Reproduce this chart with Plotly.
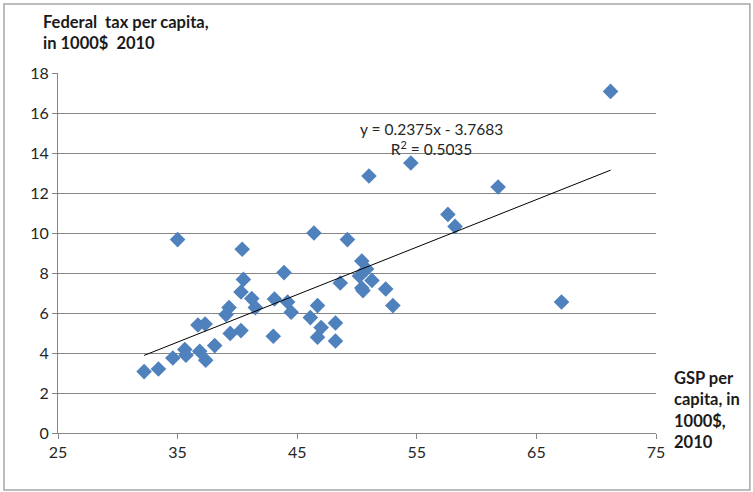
import plotly.graph_objects as go

gsp_per_capita = [32.2, 33.4, 34.6, 35.6, 35.7, 35.0, 36.7, 37.3, 36.85, 37.35,
                  38.1, 39.05, 39.3, 39.4, 40.3, 40.3, 40.5, 40.4, 41.2, 41.5,
                  43.0, 43.1, 43.9, 44.2, 44.5, 46.1, 46.4, 46.7, 46.7, 47.0,
                  48.2, 48.2, 48.6, 49.2, 50.2, 50.4, 50.8, 50.4, 50.5, 51.25,
                  51.0, 52.4, 53.0, 54.5, 57.6, 58.2, 61.8, 67.1, 71.2]
federal_tax = [3.07, 3.2, 3.75, 4.17, 3.89, 9.67, 5.4, 5.45, 4.09, 3.64,
               4.37, 5.92, 6.27, 4.98, 5.12, 7.05, 7.68, 9.19, 6.72, 6.27,
               4.84, 6.7, 8.02, 6.55, 6.04, 5.77, 10.0, 6.37, 4.79, 5.27,
               5.5, 4.6, 7.5, 9.67, 7.85, 8.6, 8.2, 7.25, 7.12, 7.63,
               12.85, 7.2, 6.37, 13.5, 10.93, 10.33, 12.3, 6.55, 17.08]

trend_slope = 0.2375
trend_intercept = -3.7683
r_squared = 0.5035

x_ticks = [25, 35, 45, 55, 65, 75]
y_ticks = [0, 2, 4, 6, 8, 10, 12, 14, 16, 18]

FONT = "Lato"
GRID = "#868686"
TXT = "#262626"

fig = go.Figure()
fig.add_trace(go.Scatter(
    x=gsp_per_capita, y=federal_tax, mode="markers",
    marker=dict(symbol="diamond", size=12, color="#4F81BD", line=dict(width=0)),
    showlegend=False, hoverinfo="x+y"))

xmin, xmax = min(gsp_per_capita), max(gsp_per_capita)
fig.add_trace(go.Scatter(
    x=[xmin, xmax],
    y=[trend_slope * xmin + trend_intercept, trend_slope * xmax + trend_intercept],
    mode="lines", line=dict(color="#000000", width=1),
    showlegend=False, hoverinfo="skip"))

fig.update_layout(
    width=753, height=492,
    margin=dict(l=58, r=97, t=73, b=59),
    paper_bgcolor="white", plot_bgcolor="white",
    font=dict(family=FONT, size=16, color=TXT),
    xaxis=dict(range=[25, 75], tickvals=x_ticks, ticktext=[str(v) for v in x_ticks],
               showgrid=False, zeroline=False, showline=True, linecolor=GRID, linewidth=1,
               ticks="outside", ticklen=5, tickcolor=GRID, tickfont=dict(size=16, color=TXT)),
    yaxis=dict(range=[0, 18], tickvals=y_ticks, ticktext=[str(v) for v in y_ticks],
               showgrid=True, gridcolor=GRID, gridwidth=1, zeroline=False,
               showline=True, linecolor=GRID, linewidth=1,
               ticks="outside", ticklen=5, tickcolor=GRID, tickfont=dict(size=16, color=TXT)),
    shapes=[dict(type="rect", xref="paper", yref="paper", x0=-0.0903, x1=1.157, y0=-0.158, y1=1.192,
                 line=dict(color="#A6A6A6", width=1.5))],
    annotations=[
        dict(text="<b>Federal  tax per capita,<br>in 1000$  2010</b>", xref="paper", yref="paper",
             x=-0.028, y=1.175, xanchor="left", yanchor="top", align="left", showarrow=False,
             font=dict(family=FONT, size=16.5, color="#1a1a1a")),
        dict(text="<b>GSP per<br>capita, in<br>1000$,<br>2010</b>", xref="paper", yref="paper",
             x=1.026, y=0.185, xanchor="left", yanchor="top", align="left", showarrow=False,
             font=dict(family=FONT, size=16.5, color="#1a1a1a")),
        dict(text=f"y = {trend_slope}x - {abs(trend_intercept)}<br>R<sup>2</sup> = {r_squared}",
             xref="x", yref="y", x=56.25, y=14.68, xanchor="center", yanchor="middle",
             align="center", showarrow=False,
             font=dict(family=FONT, size=15.5, color=TXT)),
    ],
)

fig.write_html("out.html", config={"displayModeBar": False},
               post_script="document.body.style.margin='0';document.body.style.overflow='hidden';")
